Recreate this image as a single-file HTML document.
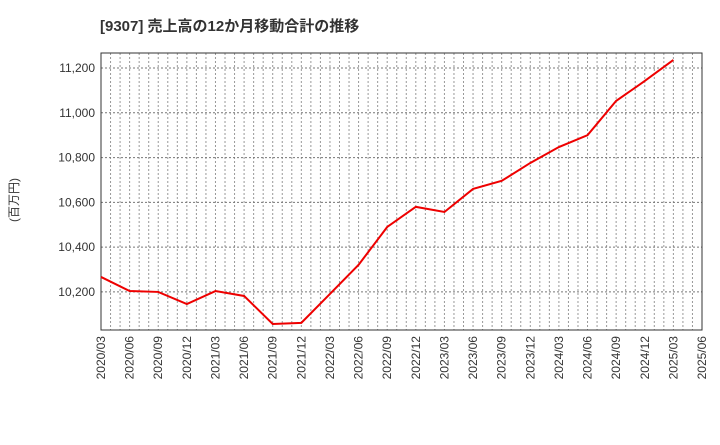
<!DOCTYPE html>
<html><head><meta charset="utf-8"><style>
body{margin:0;background:#fff;font-family:"Liberation Sans","Noto Sans CJK JP",sans-serif;}
</style></head><body>
<svg id="c" width="720" height="440" xmlns="http://www.w3.org/2000/svg">
<text x="100" y="31" font-size="15" font-weight="bold" fill="#333" font-family="Liberation Sans, Noto Sans CJK JP, sans-serif">[9307]  売上高の12か月移動合計の推移</text>
<text transform="translate(18,200) rotate(-90)" font-size="12" fill="#333" text-anchor="middle" font-family="Liberation Sans, Noto Sans CJK JP, sans-serif">(百万円)</text>
<g id="grid"></g><g id="axes"></g><g id="series"></g>
</svg>
<script>
const categories=["2020/03","2020/06","2020/09","2020/12","2021/03","2021/06","2021/09","2021/12","2022/03","2022/06","2022/09","2022/12","2023/03","2023/06","2023/09","2023/12","2024/03","2024/06","2024/09","2024/12","2025/03"];
const values=[10267,10204,10200,10146,10204,10182,10057,10062,10191,10321,10490,10580,10557,10660,10696,10776,10847,10900,11053,11142,11236];
const xTickLabels=["2020/03","2020/06","2020/09","2020/12","2021/03","2021/06","2021/09","2021/12","2022/03","2022/06","2022/09","2022/12","2023/03","2023/06","2023/09","2023/12","2024/03","2024/06","2024/09","2024/12","2025/03","2025/06"];
const yTicks=[10200,10400,10600,10800,11000,11200];
const NS="http://www.w3.org/2000/svg";
const L=101,R=702,T=53,B=330,yMin=10030,yMax=11267;
const qw=(R-L)/(xTickLabels.length-1);
const x=i=>L+i*qw;
const y=v=>B-(v-yMin)/(yMax-yMin)*(B-T);
function mk(t,a,p){const e=document.createElementNS(NS,t);for(const k in a)e.setAttribute(k,a[k]);p.appendChild(e);return e;}
const g=document.getElementById('grid'),ax=document.getElementById('axes'),s=document.getElementById('series');
for(let m=1;m<(xTickLabels.length-1)*3;m++){const xx=L+m*qw/3;
const l=mk('line',{x1:xx,x2:xx,y1:T,y2:B,stroke:'#999','stroke-width':1,'stroke-dasharray':'2,2'},g);

}
yTicks.forEach(v=>{const yy=y(v);
const l=mk('line',{x1:L,x2:R,y1:yy,y2:yy,stroke:'#777','stroke-width':1,'stroke-dasharray':'2,2'},g);


const t=mk('text',{x:L-6,y:yy+4,'text-anchor':'end','font-size':12,fill:'#333'},ax);t.textContent=v.toLocaleString('en-US');

});
xTickLabels.forEach((lb,i)=>{const xx=x(i);
const t=mk('text',{transform:`translate(${xx+4},${B+6}) rotate(-90)`,'text-anchor':'end','font-size':12,fill:'#333'},ax);t.textContent=lb;

});
const fr=mk('rect',{x:L,y:T,width:R-L,height:B-T,fill:'none',stroke:'#333','stroke-width':1},ax);


const pl=mk('polyline',{points:values.map((v,i)=>x(i)+','+y(v)).join(' '),fill:'none',stroke:'#e00','stroke-width':2},s);


</script>
</body></html>
